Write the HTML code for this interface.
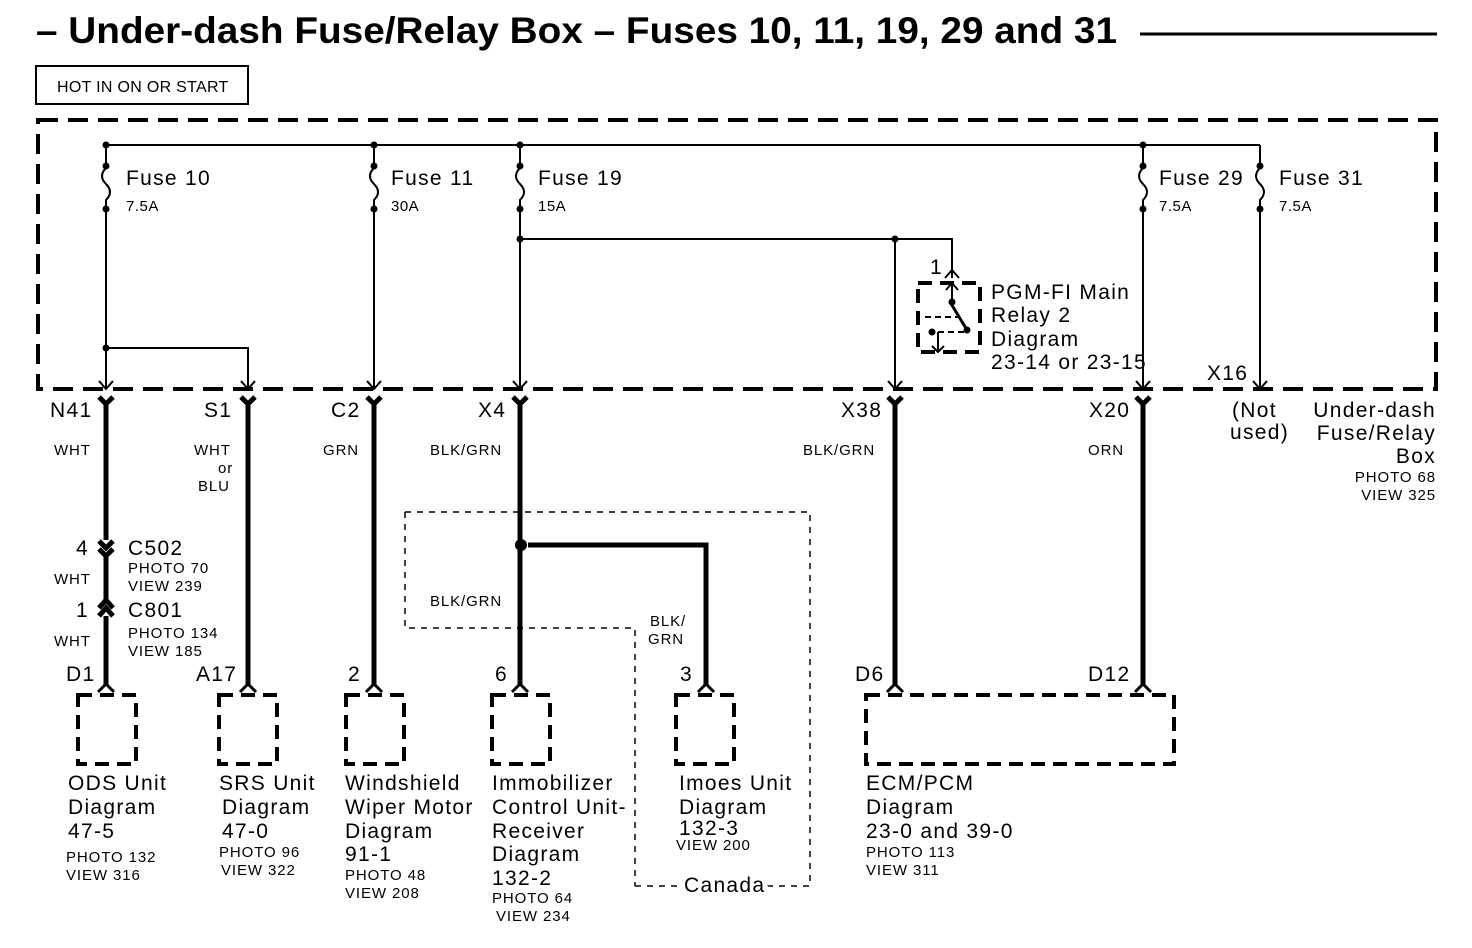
<!DOCTYPE html>
<html><head><meta charset="utf-8"><style>
html,body{margin:0;padding:0;background:#fff;}
svg{display:block;font-family:"Liberation Sans",Arial,sans-serif;}
.L{font-size:21px;letter-spacing:1.3px;}
.S{font-size:15px;letter-spacing:0.9px;}
.A{font-size:15px;letter-spacing:0.5px;}
</style></head><body>
<svg width="1472" height="948" viewBox="0 0 1472 948" xmlns="http://www.w3.org/2000/svg">
<text x="36" y="43" font-size="37" font-weight="bold" textLength="1081" lengthAdjust="spacingAndGlyphs">– Under-dash Fuse/Relay Box – Fuses 10, 11, 19, 29 and 31</text>
<line x1="1140" y1="34" x2="1437" y2="34" stroke="#000" stroke-width="3"/>
<rect x="36" y="66" width="212" height="38" fill="none" stroke="#000" stroke-width="2"/>
<text x="57" y="92" font-size="16" letter-spacing="0.3">HOT IN ON OR START</text>
<rect x="38" y="120" width="1398" height="269" fill="none" stroke="#000" stroke-width="4" stroke-dasharray="20,10"/>
<g stroke="#000" stroke-width="2" fill="none">
<line x1="106" y1="145" x2="1260" y2="145"/>
<path d="M106 145 V168 q-8 8 0 16 q8 8 0 16 V389"/>
<path d="M374 145 V168 q-8 8 0 16 q8 8 0 16 V389"/>
<path d="M520 145 V168 q-8 8 0 16 q8 8 0 16 V389"/>
<path d="M1143 145 V168 q-8 8 0 16 q8 8 0 16 V389"/>
<path d="M1260 145 V168 q-8 8 0 16 q8 8 0 16 V389"/>
<path d="M106 348 H248 V389"/>
<path d="M520 239 H952 V278"/>
<line x1="895" y1="239" x2="895" y2="389"/>
<path d="M99 381 L106 389 L113 381"/><path d="M241 381 L248 389 L255 381"/>
<path d="M367 381 L374 389 L381 381"/><path d="M513 381 L520 389 L527 381"/>
<path d="M888 381 L895 389 L902 381"/><path d="M1136 381 L1143 389 L1150 381"/>
<path d="M1253 381 L1260 389 L1267 381"/>
<path d="M945 278 L952 270 L959 278"/>
<rect x="918" y="283" width="62" height="69" stroke-width="4" stroke-dasharray="14,8"/>
<line x1="952" y1="283" x2="952" y2="300"/>
<path d="M946 290 L952 283 L958 290"/>
<line x1="950" y1="302" x2="967" y2="330" stroke-width="3"/>
<line x1="925" y1="317" x2="960" y2="317" stroke-dasharray="6,4"/>
<line x1="938" y1="332" x2="965" y2="332" stroke-dasharray="6,4"/>
<line x1="938" y1="332" x2="938" y2="352"/>
<path d="M932 346 L938 352 L944 346"/>
<path d="M405 512 H810 V886 M405 512 V628 H635 V886 M635 886 H810" stroke-width="1.5" stroke-dasharray="6,6"/>
</g>
<g fill="#000">
<circle cx="106" cy="145" r="3.5"/><circle cx="374" cy="145" r="3.5"/><circle cx="520" cy="145" r="3.5"/><circle cx="1143" cy="145" r="3.5"/>
<circle cx="106" cy="166" r="3.5"/><circle cx="106" cy="209" r="3.5"/>
<circle cx="374" cy="166" r="3.5"/><circle cx="374" cy="209" r="3.5"/>
<circle cx="520" cy="166" r="3.5"/><circle cx="520" cy="209" r="3.5"/>
<circle cx="1143" cy="166" r="3.5"/><circle cx="1143" cy="209" r="3.5"/>
<circle cx="1260" cy="166" r="3.5"/><circle cx="1260" cy="209" r="3.5"/>
<circle cx="106" cy="348" r="3.5"/><circle cx="520" cy="239" r="3.5"/><circle cx="895" cy="239" r="3.5"/>
<circle cx="952" cy="302" r="3.5"/><circle cx="967" cy="330" r="3.5"/><circle cx="932" cy="332" r="3.5"/>
<circle cx="521" cy="545" r="6"/>
</g>
<g>
<text class="L" x="126" y="185">Fuse 10</text><text class="A" x="126" y="211">7.5A</text>
<text class="L" x="391" y="185">Fuse 11</text><text class="A" x="391" y="211">30A</text>
<text class="L" x="538" y="185">Fuse 19</text><text class="A" x="538" y="211">15A</text>
<text class="L" x="1159" y="185">Fuse 29</text><text class="A" x="1159" y="211">7.5A</text>
<text class="L" x="1279" y="185">Fuse 31</text><text class="A" x="1279" y="211">7.5A</text>
<text class="L" x="930" y="274">1</text>
<text class="L" x="991" y="299">PGM-FI Main</text>
<text class="L" x="991" y="322">Relay 2</text>
<text class="L" x="991" y="346">Diagram</text>
<text class="L" x="991" y="369" letter-spacing="0.6">23-14 or 23-15</text>
<text class="L" x="1207" y="380">X16</text>
</g>
<g stroke="#000" stroke-width="5" fill="none">
<path d="M99 397 L106 404 L113 397 M106 404 V540"/>
<path d="M99 541 L106 548 L113 541 M99 549 L106 556 L113 549 M106 556 V600"/>
<path d="M99 608 L106 600 L113 608 M99 616 L106 608 L113 616 M106 616 V686"/>
<path d="M241 397 L248 404 L255 397 M248 404 V686"/>
<path d="M367 397 L374 404 L381 397 M374 404 V686"/>
<path d="M513 397 L520 404 L527 397 M520 404 V686"/>
<path d="M528 545 H706 V686"/>
<path d="M888 397 L895 404 L902 397 M895 404 V686"/>
<path d="M1136 397 L1143 404 L1150 397 M1143 404 V686"/>
</g>
<g stroke="#000" stroke-width="3" fill="none">
<path d="M98 692 L106 684 L114 692"/>
<path d="M240 692 L248 684 L256 692"/>
<path d="M366 692 L374 684 L382 692"/>
<path d="M512 692 L520 684 L528 692"/>
<path d="M698 692 L706 684 L714 692"/>
<path d="M887 692 L895 684 L903 692"/>
<path d="M1135 692 L1143 684 L1151 692"/>
</g>
<g stroke="#000" stroke-width="4" fill="none" stroke-dasharray="14,8">
<rect x="78" y="695" width="58" height="69"/>
<rect x="219" y="695" width="58" height="69"/>
<rect x="346" y="695" width="58" height="69"/>
<rect x="492" y="695" width="58" height="69"/>
<rect x="676" y="695" width="58" height="69"/>
<rect x="866" y="695" width="308" height="69"/>
</g>
<g>
<text class="L" x="50" y="417">N41</text><text class="L" x="204" y="417">S1</text>
<text class="L" x="331" y="417">C2</text><text class="L" x="478" y="417">X4</text>
<text class="L" x="841" y="417">X38</text><text class="L" x="1089" y="417">X20</text>
<text class="L" x="1232" y="417">(Not</text><text class="L" x="1230" y="439">used)</text>
<text class="L" x="1436" y="417" text-anchor="end">Under-dash</text>
<text class="L" x="1436" y="440" text-anchor="end">Fuse/Relay</text>
<text class="L" x="1436" y="463" text-anchor="end">Box</text>
<text class="S" x="1436" y="482" text-anchor="end">PHOTO 68</text>
<text class="S" x="1436" y="500" text-anchor="end">VIEW 325</text>
<text class="S" x="54" y="455">WHT</text>
<text class="S" x="194" y="455">WHT</text><text class="S" x="218" y="473">or</text><text class="S" x="198" y="491">BLU</text>
<text class="S" x="323" y="455">GRN</text>
<text class="S" x="430" y="455">BLK/GRN</text>
<text class="S" x="803" y="455">BLK/GRN</text>
<text class="S" x="1088" y="455">ORN</text>
<text class="S" x="430" y="606">BLK/GRN</text>
<text class="S" x="650" y="626">BLK/</text><text class="S" x="648" y="644">GRN</text>
<text class="L" x="76" y="555">4</text><text class="L" x="128" y="555">C502</text>
<text class="S" x="128" y="573">PHOTO 70</text><text class="S" x="128" y="591">VIEW 239</text>
<text class="S" x="54" y="584">WHT</text>
<text class="L" x="76" y="617">1</text><text class="L" x="128" y="617">C801</text>
<text class="S" x="128" y="638">PHOTO 134</text><text class="S" x="128" y="656">VIEW 185</text>
<text class="S" x="54" y="646">WHT</text>
<text class="L" x="66" y="681">D1</text><text class="L" x="196" y="681">A17</text>
<text class="L" x="348" y="681">2</text><text class="L" x="495" y="681">6</text>
<text class="L" x="680" y="681">3</text><text class="L" x="855" y="681">D6</text>
<text class="L" x="1088" y="681">D12</text>
<text class="L" x="68" y="790">ODS Unit</text><text class="L" x="68" y="814">Diagram</text>
<text class="L" x="68" y="838">47-5</text><text class="S" x="66" y="862">PHOTO 132</text><text class="S" x="66" y="880">VIEW 316</text>
<text class="L" x="219" y="790">SRS Unit</text><text class="L" x="222" y="814">Diagram</text>
<text class="L" x="222" y="838">47-0</text><text class="S" x="219" y="857">PHOTO 96</text><text class="S" x="221" y="875">VIEW 322</text>
<text class="L" x="345" y="790">Windshield</text><text class="L" x="345" y="814">Wiper Motor</text>
<text class="L" x="345" y="838">Diagram</text><text class="L" x="345" y="861">91-1</text>
<text class="S" x="345" y="880">PHOTO 48</text><text class="S" x="345" y="898">VIEW 208</text>
<text class="L" x="492" y="790">Immobilizer</text><text class="L" x="492" y="814">Control Unit-</text>
<text class="L" x="492" y="838">Receiver</text><text class="L" x="492" y="861">Diagram</text>
<text class="L" x="492" y="885">132-2</text>
<text class="S" x="492" y="903">PHOTO 64</text><text class="S" x="496" y="921">VIEW 234</text>
<text class="L" x="679" y="790">Imoes Unit</text><text class="L" x="679" y="814">Diagram</text>
<text class="L" x="679" y="835">132-3</text><text class="S" x="676" y="850">VIEW 200</text>
<text class="L" x="684" y="892" style="paint-order:stroke" stroke="#fff" stroke-width="8">Canada</text>
<text class="L" x="866" y="790">ECM/PCM</text><text class="L" x="866" y="814">Diagram</text>
<text class="L" x="866" y="838" letter-spacing="0.8">23-0 and 39-0</text>
<text class="S" x="866" y="857">PHOTO 113</text><text class="S" x="866" y="875">VIEW 311</text>
</g>
</svg>
</body></html>
